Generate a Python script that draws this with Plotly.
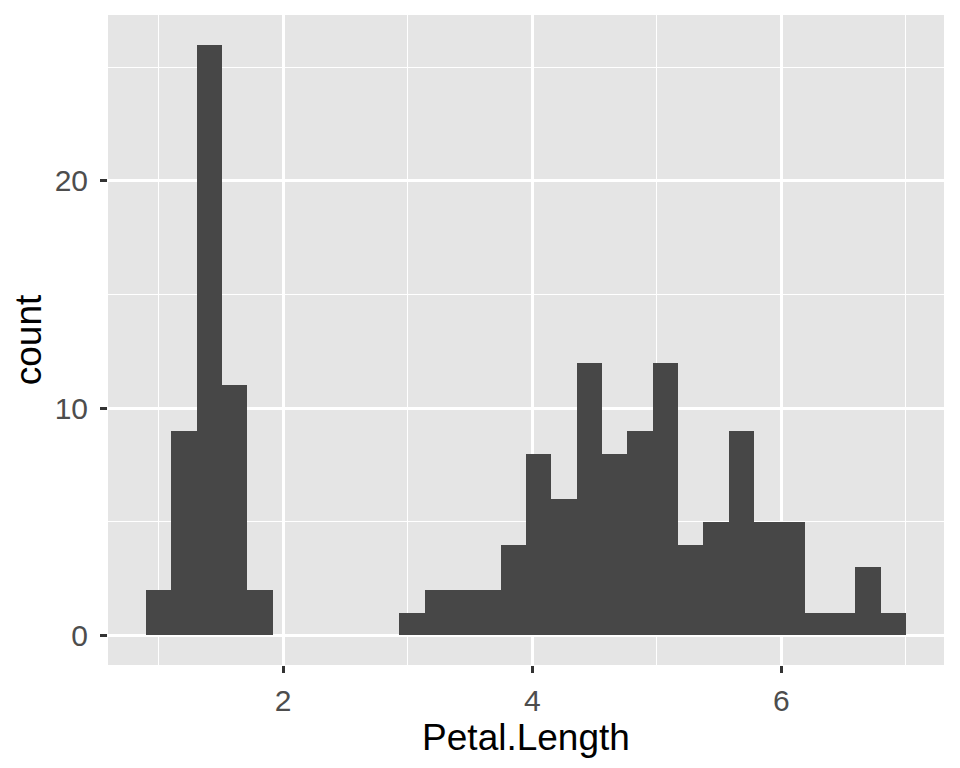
import numpy as np
import plotly.graph_objects as go

# iris Petal.Length histogram, 30 bins (ggplot2 default)
bin_first_center = 1.0
bin_last_center = 6.9
n_bins = 30
counts = [2, 9, 26, 11, 2, 0, 0, 0, 0, 0,
          1, 2, 2, 2, 4, 8, 6, 12, 8, 9,
          12, 4, 5, 9, 5, 5, 1, 1, 3, 1]
x_ticks = [2, 4, 6]
y_ticks = [0, 10, 20]

centers = np.linspace(bin_first_center, bin_last_center, n_bins)
width = (bin_last_center - bin_first_center) / (n_bins - 1)

fig = go.Figure(go.Bar(x=centers, y=counts, width=width,
                       marker=dict(color="#474747", line=dict(width=0))))

font = "Liberation Sans, Arial, sans-serif"
# page body has an 8px margin, so the figure is offset by 8px
fig.update_layout(
    width=952, height=760,
    margin=dict(l=100, r=16, t=7, b=103),
    paper_bgcolor="white", plot_bgcolor="#E5E5E5",
    font=dict(family=font),
    showlegend=False,
    bargap=0,
)
fig.update_xaxes(
    range=[0.593, 7.307], tickvals=x_ticks, ticktext=[str(v) for v in x_ticks],
    showgrid=True, gridcolor="white", gridwidth=2.7,
    minor=dict(tickvals=[1, 3, 5, 7], showgrid=True, gridcolor="white", gridwidth=1.3, ticks=""),
    ticks="outside", ticklen=7, tickwidth=2.7, tickcolor="#333333",
    tickfont=dict(size=30, color="#4D4D4D"), ticklabelstandoff=2,
    title=dict(text="Petal.Length", font=dict(size=37, color="black"), standoff=4),
    zeroline=False, showline=False,
)
fig.update_yaxes(
    range=[-1.3, 27.3], tickvals=y_ticks, ticktext=[str(v) for v in y_ticks],
    showgrid=True, gridcolor="white", gridwidth=2.7,
    minor=dict(tickvals=[5, 15, 25], showgrid=True, gridcolor="white", gridwidth=1.3, ticks=""),
    ticks="outside", ticklen=7, tickwidth=2.7, tickcolor="#333333",
    tickfont=dict(size=30, color="#4D4D4D"), ticklabelstandoff=6,
    title=dict(text="count", font=dict(size=37, color="black"), standoff=12),
    zeroline=False, showline=False,
)
fig.write_html("out.html")
